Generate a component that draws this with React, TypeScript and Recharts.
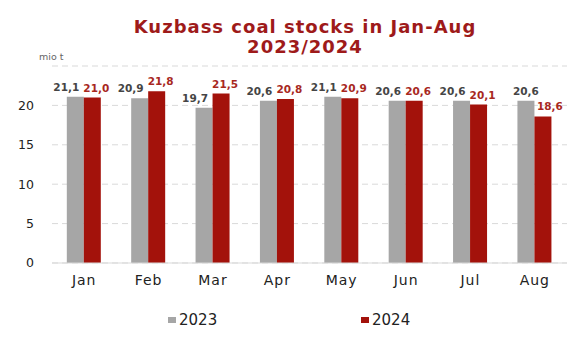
import React from 'react';
import { BarChart, Bar, XAxis, YAxis, CartesianGrid, LabelList } from 'recharts';

const MONTHS = ['Jan', 'Feb', 'Mar', 'Apr', 'May', 'Jun', 'Jul', 'Aug'];
const STOCKS_2023 = [21.1, 20.9, 19.7, 20.6, 21.1, 20.6, 20.6, 20.6];
const STOCKS_2024 = [21.0, 21.8, 21.5, 20.8, 20.9, 20.6, 20.1, 18.6];
const Y_TICKS = [0, 5, 10, 15, 20];

const GRAY = '#a6a6a6';
const RED = '#a3120b';
const FONT = '"DejaVu Sans", Verdana, sans-serif';

const data = MONTHS.map((m, i) => ({ month: m, y2023: STOCKS_2023[i], y2024: STOCKS_2024[i] }));

const fmt = (v: number) => v.toFixed(1).replace('.', ',');

const makeLabel = (series: 'y2023' | 'y2024') => (props: any) => {
  const { x, y, width, value, index } = props;
  const g = STOCKS_2023[index];
  const r = STOCKS_2024[index];
  let dx = 0;
  if (series === 'y2023') dx = r >= g - 0.6 ? -9 : 0;
  else dx = r < g - 0.6 ? 7 : 4;
  return (
    <text x={x + width / 2 + dx} y={y - 6} textAnchor="middle" fontFamily={FONT} fontSize={10.5} fontWeight="bold"
      fill={series === 'y2023' ? '#454545' : '#a8281e'}>
      {fmt(value)}
    </text>
  );
};

export default function App() {
  return (
    <div style={{ position: 'absolute', left: 0, top: 0, width: 581, height: 341, background: '#fff', fontFamily: FONT }}>
      <div style={{ position: 'absolute', left: 0, width: 610, top: 17, textAlign: 'center', color: '#9e1a1a', fontWeight: 'bold', fontSize: 18, lineHeight: '20px', letterSpacing: 1 }}>
        Kuzbass coal stocks in Jan-Aug<br />2023/2024
      </div>
      <div style={{ position: 'absolute', left: 39, top: 51, fontSize: 9.5, color: '#666' }}>mio t</div>
      <BarChart width={581} height={341} data={data} margin={{ top: 66, right: 14, bottom: 48, left: 12 }}
        barCategoryGap="23%" barGap={0}>
        <CartesianGrid vertical={false} strokeDasharray="6 4" stroke="#d9d9d9" />
        <XAxis dataKey="month" tickLine={false} axisLine={{ stroke: '#d9d9d9' }}
          tick={{ fill: '#222', fontSize: 14, fontFamily: FONT, letterSpacing: 1 }} tickMargin={6} />
        <YAxis domain={[0, 25]} ticks={Y_TICKS} width={40} tickLine={false} axisLine={false}
          tick={{ fill: '#222', fontSize: 12.5, fontFamily: FONT }} tickMargin={12} />
        <Bar dataKey="y2023" fill={GRAY} isAnimationActive={false}>
          <LabelList dataKey="y2023" content={makeLabel('y2023')} />
        </Bar>
        <Bar dataKey="y2024" fill={RED} isAnimationActive={false}>
          <LabelList dataKey="y2024" content={makeLabel('y2024')} />
        </Bar>
      </BarChart>
      <div style={{ position: 'absolute', top: 311, left: 168, display: 'flex', alignItems: 'center', fontSize: 15, color: '#222' }}>
        <span style={{ width: 8, height: 6, background: GRAY, marginRight: 3, display: 'inline-block' }} />2023
      </div>
      <div style={{ position: 'absolute', top: 311, left: 361, display: 'flex', alignItems: 'center', fontSize: 15, color: '#222' }}>
        <span style={{ width: 8, height: 6, background: RED, marginRight: 3, display: 'inline-block' }} />2024
      </div>
    </div>
  );
}
